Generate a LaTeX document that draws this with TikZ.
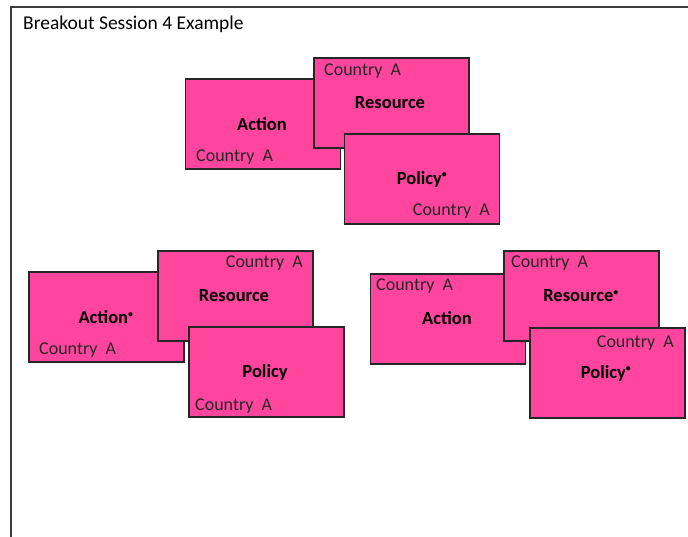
\documentclass[tikz,border=0pt]{standalone}
\usepackage{fontspec}
\setmainfont{Carlito}
\definecolor{cardpink}{RGB}{255,69,158}
\definecolor{framegray}{RGB}{60,60,60}
\tikzset{
  card/.style={draw=black!85, line width=1.2pt, fill=cardpink, minimum width=155pt, minimum height=90pt, inner sep=0pt},
  kind/.style={font=\fontsize{18.5}{20}\selectfont\bfseries, inner sep=0pt},
  ctry/.style={font=\fontsize{18}{20}\selectfont, inner sep=0pt, text=black!85}
}
\newcommand{\starmark}{\textsuperscript{\scalebox{0.75}{\textbullet}}}
\newcommand{\ctrytext}{Country\hspace{0.45em}A}
\begin{document}
\begin{tikzpicture}[x=1pt, y=-1pt]
  \useasboundingbox (0,0) rectangle (688,537);
  \draw[framegray, line width=1.4pt] (11,537) -- (11,7) -- (688,7);
  \node[anchor=west, font=\fontsize{19.5}{22}\selectfont, inner sep=0pt] (title) at (23,24) {Breakout Session 4 Example};

  % first group, top
  \node[card] (act1) at (263,124) {};
  \node[kind] (act1k) at (262,124) {Action};
  \node[ctry, anchor=west] (act1c) at (196,157) {\ctrytext};
  \node[card] (res1) at (391.5,103) {};
  \node[ctry, anchor=west] (res1c) at (324,71) {\ctrytext};
  \node[kind] (res1k) at (390,103) {Resource};
  \node[card] (pol1) at (422,179) {};
  \node[kind] (pol1k) at (422,179) {Policy\starmark};
  \node[ctry, anchor=east] (pol1c) at (490,211) {\ctrytext};

  % second group, left
  \node[card] (act2) at (106.5,317) {};
  \node[kind] (act2k) at (106,317) {Action\starmark};
  \node[ctry, anchor=west] (act2c) at (39,350) {\ctrytext};
  \node[card] (res2) at (235.5,296) {};
  \node[ctry, anchor=east] (res2c) at (303,263) {\ctrytext};
  \node[kind] (res2k) at (234,296) {Resource};
  \node[card] (pol2) at (266.5,372) {};
  \node[kind] (pol2k) at (265,372) {Policy};
  \node[ctry, anchor=west] (pol2c) at (195,406) {\ctrytext};

  % third group, right
  \node[card] (act3) at (448,319) {};
  \node[ctry, anchor=west] (act3c) at (376,286) {\ctrytext};
  \node[kind] (act3k) at (447,318) {Action};
  \node[card] (res3) at (581.5,296) {};
  \node[ctry, anchor=west] (res3c) at (511,263) {\ctrytext};
  \node[kind] (res3k) at (581,296) {Resource\starmark};
  \node[card] (pol3) at (607.5,373) {};
  \node[ctry, anchor=east] (pol3c) at (674,343) {\ctrytext};
  \node[kind] (pol3k) at (606,373) {Policy\starmark};
\end{tikzpicture}
\end{document}
